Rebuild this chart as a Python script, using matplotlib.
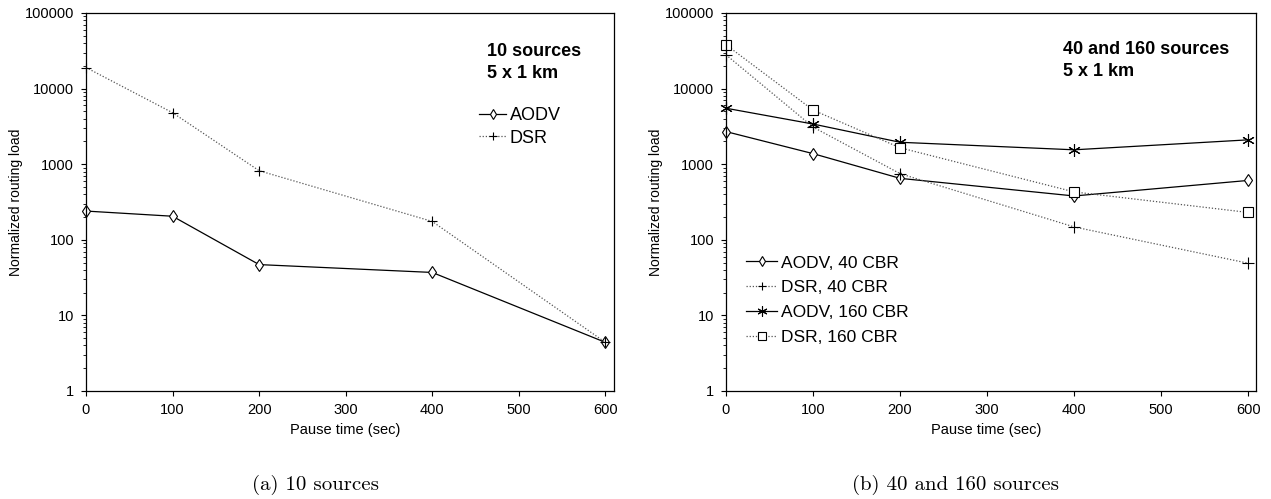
import matplotlib
matplotlib.use("Agg")
import matplotlib.pyplot as plt
from matplotlib.ticker import LogLocator, FixedLocator, NullFormatter

plt.rcParams['font.family'] = ['Liberation Sans', 'DejaVu Sans']

# pause times (sec)
pause = [0, 100, 200, 400, 600]

# (a) 10 sources
aodv_10 = [240, 205, 47, 37, 4.4]
dsr_10 = [19000, 4800, 820, 175, 4.4]

# (b) 40 and 160 sources
aodv_40 = [2700, 1380, 650, 380, 610]
dsr_40 = [28000, 3100, 750, 148, 49]
aodv_160 = [5500, 3400, 1950, 1550, 2100]
dsr_160 = [38000, 5200, 1650, 430, 230]

ytick_vals = [1, 10, 100, 1000, 10000, 100000]
ytick_labels = ['1', '10', '100', '1000', '10000', '100000']
xtick_vals = [0, 100, 200, 300, 400, 500, 600]

W, H = 1271, 499
fig = plt.figure(figsize=(W / 100, H / 100), dpi=100)
ax1 = fig.add_axes([86 / W, 1 - 391 / H, (614 - 86) / W, (391 - 13) / H])
ax2 = fig.add_axes([726 / W, 1 - 391 / H, (1256 - 726) / W, (391 - 13) / H])

asterisk = (6, 2, 0)
solid = dict(color='black', lw=0.9, markerfacecolor='white', markeredgecolor='black',
             markeredgewidth=0.8, clip_on=False)
dotted = dict(color='#555555', lw=0.9, ls=(0, (1, 1.5)), markerfacecolor='white',
              markeredgecolor='black', markeredgewidth=0.8, clip_on=False)

ax1.plot(pause, aodv_10, marker='d', ms=6, label='AODV', **solid)
ax1.plot(pause, dsr_10, marker='+', ms=7, label='DSR', **dotted)

ax2.plot(pause, aodv_40, marker='d', ms=6, label='AODV, 40 CBR', **solid)
ax2.plot(pause, dsr_40, marker='+', ms=8, label='DSR, 40 CBR', **dotted)
ax2.plot(pause, aodv_160, marker=asterisk, ms=9, label='AODV, 160 CBR', **solid)
ax2.plot(pause, dsr_160, marker='s', ms=7, label='DSR, 160 CBR', **dotted)

for ax, xmax in ((ax1, 610), (ax2, 609)):
    ax.set_yscale('log')
    ax.set_ylim(1, 100000)
    ax.set_xlim(0, xmax)
    ax.xaxis.set_major_locator(FixedLocator(xtick_vals))
    ax.yaxis.set_major_locator(FixedLocator(ytick_vals))
    ax.set_yticklabels(ytick_labels)
    ax.yaxis.set_minor_locator(LogLocator(base=10, subs=range(2, 10), numticks=20))
    ax.yaxis.set_minor_formatter(NullFormatter())
    ax.tick_params(axis='both', which='major', direction='out', length=3.5, width=0.8, labelsize=10.5)
    ax.tick_params(axis='x', which='major', pad=5)
    ax.tick_params(axis='y', which='major', pad=5)
    ax.tick_params(axis='y', which='minor', direction='out', length=2.5, width=0.6)
    ax.tick_params(top=False, right=False)
    for s in ax.spines.values():
        s.set_linewidth(0.9)
    ax.set_xlabel('Pause time (sec)', fontsize=10.5)
    ax.set_ylabel('Normalized routing load', fontsize=10)
    ax.xaxis.set_label_coords(0.49, -0.085)
    ax.yaxis.set_label_coords(-63 / 528, 0.5)

fig.text(487 / W, 1 - 56 / H, '10 sources', fontsize=13, fontweight='bold', va='baseline')
fig.text(487 / W, 1 - 78 / H, '5 x 1 km', fontsize=13, fontweight='bold', va='baseline')
ax1.legend(loc='center left', bbox_to_anchor=(479 / W, 1 - 127 / H), bbox_transform=fig.transFigure,
           frameon=False, fontsize=13, handlelength=1.5, handletextpad=0.2, labelspacing=0.3,
           borderpad=0, borderaxespad=0, markerscale=0.8)

fig.text(1063 / W, 1 - 54 / H, '40 and 160 sources', fontsize=13, fontweight='bold', va='baseline')
fig.text(1063 / W, 1 - 76 / H, '5 x 1 km', fontsize=13, fontweight='bold', va='baseline')
ax2.legend(loc='center left', bbox_to_anchor=(746 / W, 1 - 300 / H), bbox_transform=fig.transFigure,
           frameon=False, fontsize=12.5, handlelength=1.8, handletextpad=0.2, labelspacing=0.55,
           borderpad=0, borderaxespad=0, markerscale=0.8)

fig.text(316 / W, 1 - 485 / H, '(a) 10 sources', fontname='cmr10', fontsize=15, ha='center', va='center')
fig.text(955 / W, 1 - 485 / H, '(b) 40 and 160 sources', fontname='cmr10', fontsize=15, ha='center', va='center')

fig.savefig('out.png', dpi=100)
